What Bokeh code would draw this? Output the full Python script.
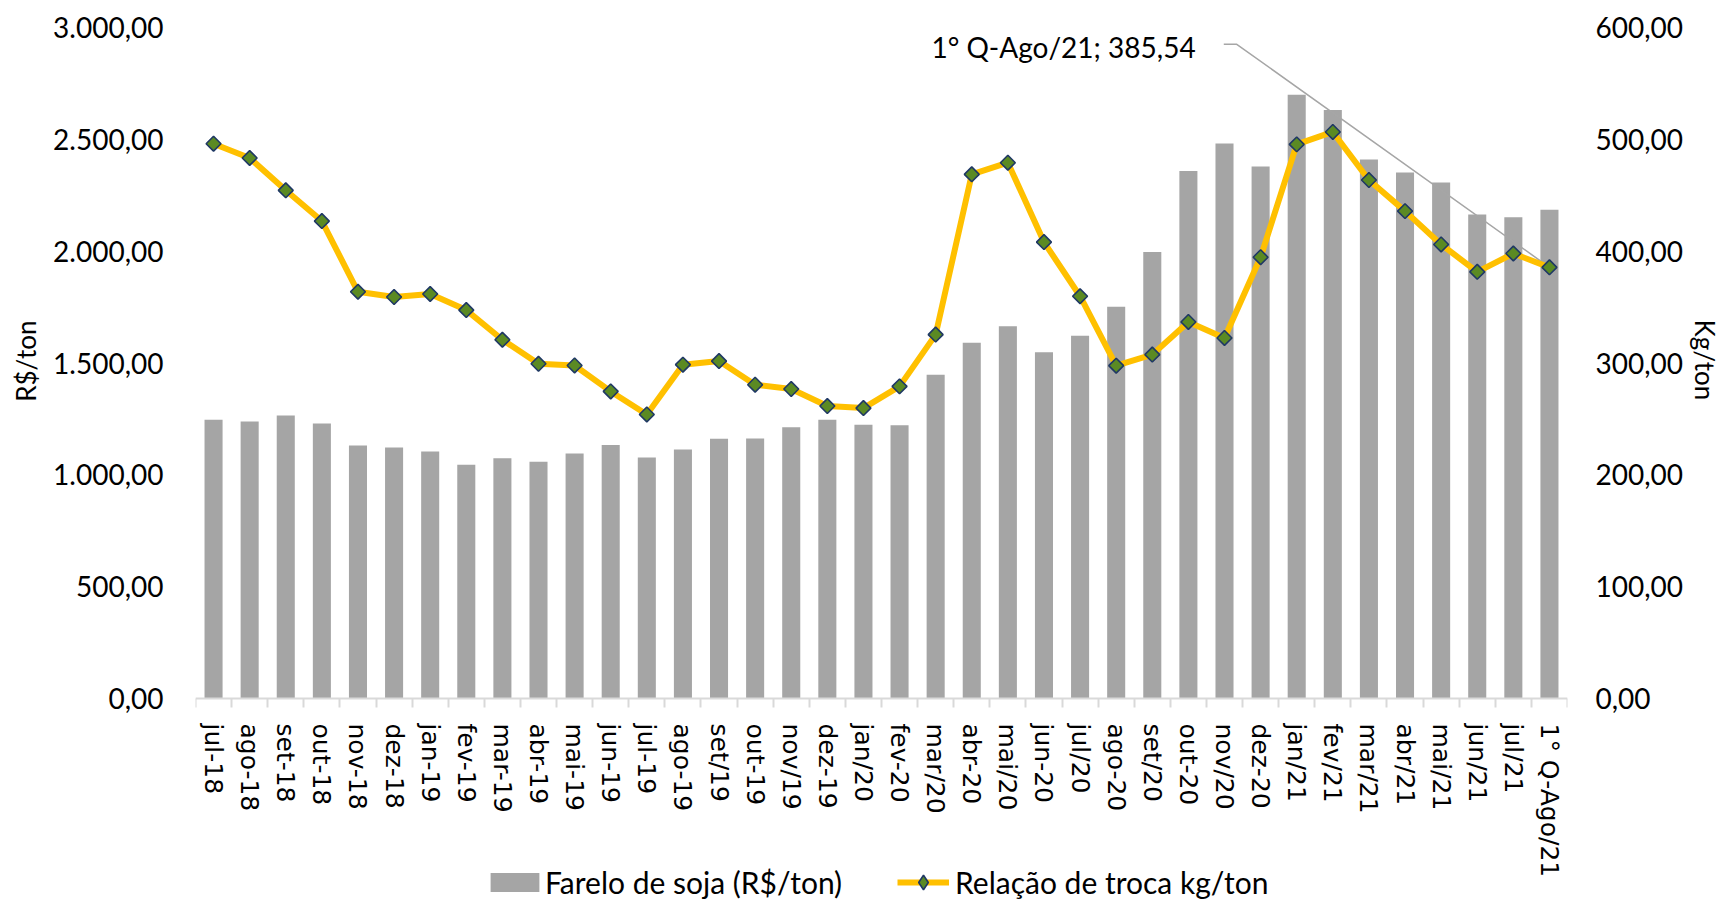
import math
from bokeh.plotting import figure
from bokeh.models import (Range1d, LinearAxis, FixedTicker, Legend, LegendItem, Label,
                          Title, ColumnDataSource)
from bokeh.embed import file_html
from bokeh.resources import INLINE

categories = ["jul-18", "ago-18", "set-18", "out-18", "nov-18", "dez-18",
              "jan-19", "fev-19", "mar-19", "abr-19", "mai-19", "jun-19",
              "jul-19", "ago-19", "set/19", "out-19", "nov/19", "dez-19",
              "jan/20", "fev-20", "mar/20", "abr-20", "mai/20", "jun-20",
              "jul/20", "ago-20", "set/20", "out-20", "nov/20", "dez-20",
              "jan/21", "fev/21", "mar/21", "abr/21", "mai/21", "jun/21",
              "jul/21", "1° Q-Ago/21"]

farelo = [1246, 1238, 1265, 1229, 1131, 1122, 1104, 1045, 1074, 1058,
          1095, 1133, 1077, 1113, 1161, 1162, 1213, 1246, 1224, 1222,
          1448, 1590, 1664, 1548, 1622, 1751, 1996, 2358, 2481, 2378,
          2699, 2631, 2410, 2352, 2307, 2164, 2152, 2185]

relacao = [496.1, 483.3, 454.4, 426.9, 363.7, 359.0, 361.7, 347.3, 320.8, 299.3,
           297.8, 274.6, 254.0, 298.5, 301.7, 280.6, 276.7, 261.5, 259.7, 279.1,
           325.4, 468.7, 479.1, 408.1, 359.7, 297.6, 307.5, 336.7, 322.4, 394.6,
           495.5, 506.6, 463.6, 435.8, 406.0, 381.5, 397.9, 385.54]

left_ticks = [0, 500, 1000, 1500, 2000, 2500, 3000]
left_tick_labels = ["0,00", "500,00", "1.000,00", "1.500,00", "2.000,00", "2.500,00", "3.000,00"]
right_ticks = [0, 100, 200, 300, 400, 500, 600]
right_tick_labels = ["0,00", "100,00", "200,00", "300,00", "400,00", "500,00", "600,00"]

bar_label = "Farelo de soja (R$/ton)"
line_label = "Relação de troca kg/ton"
left_title = "R$/ton"
right_title = "Kg/ton"

FONT = "Lato"
TICK_FS = "28px"
TITLE_FS = "26px"
LEGEND_FS = "30px"

BAR_COLOR = "#A5A5A5"
LINE_COLOR = "#FFC000"
MARKER_FILL = "#5B8A23"
MARKER_LINE = "#1F3864"

n = len(categories)
xs = list(range(n))

# frame spans from the top of the value area down to the legend row;
# the value-axis zero sits above the frame bottom, leaving room for labels/legend
W, H = 1725, 903
TOP, BOTTOM_PAD = 27, 3
ZERO_Y = 698
span_px = ZERO_Y - TOP
below_px = (H - BOTTOM_PAD) - ZERO_Y
left_max, right_max = 3000, 600
left_min = -left_max * below_px / span_px
right_min = -right_max * below_px / span_px

p = figure(width=W, height=H, output_backend="svg", toolbar_location=None,
           x_range=Range1d(-0.5, n - 0.5), y_range=Range1d(left_min, left_max),
           min_border_left=195, min_border_right=158, min_border_top=TOP,
           min_border_bottom=BOTTOM_PAD)
p.extra_y_ranges = {"right": Range1d(right_min, right_max)}
p.outline_line_color = None
p.xgrid.grid_line_color = None
p.ygrid.grid_line_color = None
p.background_fill_color = "white"

bars = p.vbar(x=xs, top=farelo, width=0.5, fill_color=BAR_COLOR, line_color=None)

# annotation leader line ending at the last point
last_x = xs[-1]
last_y = relacao[-1]
p.line(x=[27.98, 28.34, last_x], y=[585, 585, last_y], y_range_name="right",
       line_color="#A6A6A6", line_width=1.5)

line_src = ColumnDataSource(dict(x=xs, y=relacao))
ln = p.line(x="x", y="y", source=line_src, y_range_name="right",
            line_color=LINE_COLOR, line_width=6, line_join="round")
# diamond key for the legend (small, fully covered by the markers on the chart)
sc_key = p.scatter(x="x", y="y", source=line_src, y_range_name="right",
                   marker="diamond", size=7, fill_color=MARKER_FILL,
                   line_color=MARKER_LINE, line_width=1.6)
sc = p.scatter(x="x", y="y", source=line_src, y_range_name="right", marker="square",
               angle=math.pi / 4, size=10.5, fill_color=MARKER_FILL,
               line_color=MARKER_LINE, line_width=1.6)

ann_text = "%s; %s" % (categories[-1], ("%.2f" % last_y).replace(".", ","))
p.add_layout(Label(x=27.2, y=583, y_range_name="right", text=ann_text,
                   text_align="right", text_baseline="middle",
                   text_font=FONT, text_font_size="28px", text_color="black"))

# x axis, fixed at value zero
xa = p.xaxis[0]
xa.fixed_location = 0
xa.ticker = FixedTicker(ticks=xs, minor_ticks=[i - 0.5 for i in range(n + 1)])
xa.major_label_overrides = {i: c for i, c in enumerate(categories)}
xa.major_label_orientation = "vertical"
xa.major_label_text_font = "DejaVu Sans"
xa.major_label_text_font_size = "25px"
xa.major_label_text_color = "black"
xa.major_tick_line_color = None
xa.major_tick_out = 0
xa.major_tick_in = 0
xa.minor_tick_line_color = "#D9D9D9"
xa.minor_tick_line_width = 2
xa.minor_tick_out = 9
xa.minor_tick_in = 0
xa.axis_line_color = "#D9D9D9"
xa.axis_line_width = 2
xa.major_label_standoff = 16

# left axis
ya = p.yaxis[0]
ya.ticker = FixedTicker(ticks=left_ticks)
ya.major_label_overrides = {t: l for t, l in zip(left_ticks, left_tick_labels)}
ya.axis_line_color = None
ya.major_tick_line_color = None
ya.minor_tick_line_color = None
ya.major_tick_out = 0
ya.major_tick_in = 0
ya.major_label_standoff = 32
ya.major_label_text_font = FONT
ya.major_label_text_font_size = TICK_FS
ya.major_label_text_color = "black"

ra = LinearAxis(y_range_name="right", ticker=FixedTicker(ticks=right_ticks))
ra.major_label_overrides = {t: l for t, l in zip(right_ticks, right_tick_labels)}
ra.axis_line_color = None
ra.major_tick_line_color = None
ra.minor_tick_line_color = None
ra.major_tick_out = 0
ra.major_tick_in = 0
ra.major_label_standoff = 28
ra.major_label_text_font = FONT
ra.major_label_text_font_size = TICK_FS
ra.major_label_text_color = "black"
p.add_layout(ra, "right")

# axis titles, placed level with the value area
p.add_layout(Title(text=left_title, align="right", offset=293, vertical_align="middle",
                   standoff=16, text_font=FONT, text_font_size=TITLE_FS,
                   text_font_style="normal", text_color="black"), "left")
p.add_layout(Title(text=right_title, align="left", offset=292, vertical_align="middle",
                   standoff=2, text_font=FONT, text_font_size=TITLE_FS,
                   text_font_style="normal", text_color="black"), "right")

common = dict(orientation="horizontal", padding=0, margin=0,
              border_line_color=None, background_fill_alpha=0,
              label_text_font=FONT, label_text_font_size=LEGEND_FS,
              label_text_color="black")
leg1 = Legend(items=[LegendItem(label=bar_label, renderers=[bars])],
              location=(289, 0), glyph_width=61, glyph_height=24,
              label_standoff=0, **common)
leg2 = Legend(items=[LegendItem(label=line_label, renderers=[ln, sc_key])],
              location=(702, 0), glyph_width=52, glyph_height=36,
              label_standoff=6, **common)
p.add_layout(leg1, "center")
p.add_layout(leg2, "center")

open("out.html", "w").write(file_html(p, INLINE))
